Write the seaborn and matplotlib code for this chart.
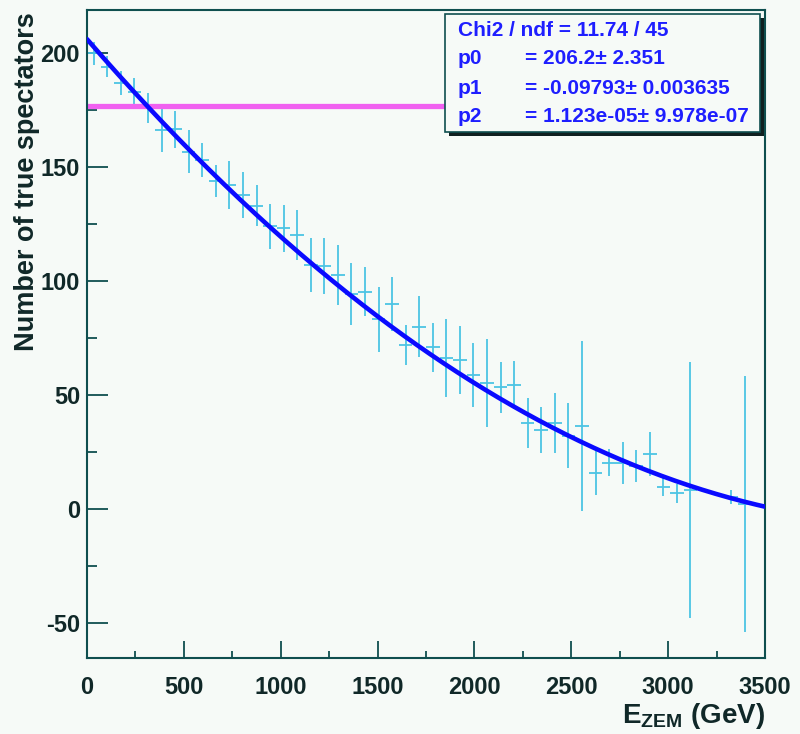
import numpy as np
import pandas as pd
import matplotlib
matplotlib.use("Agg")
import matplotlib.pyplot as plt
from matplotlib.ticker import MultipleLocator
from matplotlib.patches import Rectangle
import seaborn as sns

# ---- data ----
bin_centers = [35, 105, 175, 245, 315, 385, 455, 525, 595, 665,
               735, 805, 875, 945, 1015, 1085, 1155, 1225, 1295, 1365,
               1435, 1505, 1575, 1645, 1715, 1785, 1855, 1925, 1995, 2065,
               2135, 2205, 2275, 2345, 2415, 2485, 2555, 2625, 2695, 2765,
               2835, 2905, 2975, 3045, 3115, 3325, 3395]
spectators = [200.0, 194.1, 186.9, 183.2, 176.0, 166.3, 166.6, 156.8, 153.1, 144.1,
              142.2, 137.9, 133.0, 124.0, 123.2, 120.2, 107.1, 106.6, 102.7, 94.2,
              95.4, 83.3, 90.0, 72.0, 80.0, 70.9, 66.2, 65.4, 58.8, 55.2,
              53.4, 54.5, 37.9, 34.7, 37.9, 32.1, 36.4, 15.9, 20.3, 20.1,
              19.0, 24.1, 9.8, 6.8, 8.3, 5.4, 2.2]
spectator_err = [5.0, 4.5, 5.3, 5.9, 6.6, 9.5, 8.0, 9.5, 7.5, 7.0,
                 10.5, 10.0, 9.0, 10.0, 10.2, 11.0, 12.0, 12.4, 13.2, 13.6,
                 10.6, 14.3, 11.7, 8.8, 13.5, 10.6, 17.2, 15.0, 14.0, 19.4,
                 11.3, 10.6, 11.0, 10.2, 13.2, 14.3, 37.4, 9.9, 6.0, 9.3,
                 7.0, 9.5, 4.0, 4.0, 56.3, 3.0, 56.0]
half_bin = 35

fit_params = [206.2, -0.09793, 1.123e-05]
fit_range = [0, 3500]
reference_level = 177

stats_lines = ["Chi2 / ndf = 11.74 / 45", "p0", "p1", "p2"]
stats_values = ["", "= 206.2\u00b1 2.351", "= -0.09793\u00b1 0.003635",
                "= 1.123e-05\u00b1 9.978e-07"]

# ---- style ----
sns.set_theme(style="ticks")
plt.rcParams["font.family"] = ["Liberation Sans", "DejaVu Sans"]
plt.rcParams["axes.unicode_minus"] = False
plt.rcParams["mathtext.fontset"] = "custom"
plt.rcParams["mathtext.rm"] = "Liberation Sans:bold"
plt.rcParams["mathtext.default"] = "rm"
frame_col = "#0f4f4f"
txt_col = "#102828"
bg = "#f6faf7"

fig = plt.figure(figsize=(8.0, 7.34), dpi=100, facecolor=bg)
ax = fig.add_axes([87 / 800, 1 - 658 / 734, (765 - 87) / 800, (658 - 10) / 734])
ax.set_facecolor(bg)

# data points with error bars
ax.errorbar(bin_centers, spectators, yerr=spectator_err, xerr=half_bin,
            fmt="none", ecolor="#4cc4e4", elinewidth=1.3, capsize=0, zorder=2)

# fit curve
xs = np.linspace(fit_range[0], fit_range[1], 400)
fit_df = pd.DataFrame({"x": xs,
                       "y": fit_params[0] + fit_params[1] * xs + fit_params[2] * xs ** 2})
sns.lineplot(data=fit_df, x="x", y="y", ax=ax, color="#0a0aff", linewidth=3.3,
             zorder=3, legend=False)

# magenta reference line
ax.axhline(reference_level, color="#f060f0", linewidth=3.8, zorder=2.5)

ax.set_xlim(0, 3500)
ax.set_ylim(-65.4, 219)
ax.xaxis.set_major_locator(MultipleLocator(500))
ax.xaxis.set_minor_locator(MultipleLocator(250))
ax.yaxis.set_major_locator(MultipleLocator(50))
ax.yaxis.set_minor_locator(MultipleLocator(25))
ax.tick_params(axis="x", which="major", direction="in", length=12, width=1.3,
               color=frame_col, pad=13, labelsize=17, labelcolor=txt_col)
ax.tick_params(axis="x", which="minor", direction="in", length=5, width=1.3,
               color=frame_col)
ax.tick_params(axis="y", which="major", direction="in", length=15, width=1.3,
               color=frame_col, pad=5, labelsize=17, labelcolor=txt_col)
ax.tick_params(axis="y", which="minor", direction="in", length=7, width=1.3,
               color=frame_col)
for lab in ax.get_xticklabels() + ax.get_yticklabels():
    lab.set_fontweight("bold")
for sp in ax.spines.values():
    sp.set_visible(True)
    sp.set_color(frame_col)
    sp.set_linewidth(1.5)

ax.set_xlabel("")
ax.set_ylabel("")
fig.text(27 / 800, 1 - 12 / 734, "Number of true spectators", rotation=90,
         ha="center", va="top", fontsize=19.5, fontweight="bold", color=txt_col)
fig.text(765 / 800, 1 - 716 / 734, r"E$_{\mathregular{ZEM}}$ (GeV)",
         ha="right", va="center", fontsize=20, fontweight="bold", color=txt_col)

# stats box
bx0, by0, bx1, by1 = 445, 14, 760, 132
W, H = 800, 734
shadow = Rectangle(((bx0 + 4) / W, 1 - (by1 + 4) / H), (bx1 - bx0) / W, (by1 - by0) / H,
                   transform=fig.transFigure, facecolor="#102020", edgecolor="none",
                   zorder=5)
box = Rectangle((bx0 / W, 1 - by1 / H), (bx1 - bx0) / W, (by1 - by0) / H,
                transform=fig.transFigure, facecolor=bg, edgecolor=frame_col,
                linewidth=1.2, zorder=6)
fig.patches.extend([shadow, box])
row_y = [31, 59, 88, 116]
for name, val, yy in zip(stats_lines, stats_values, row_y):
    fig.text(458 / W, 1 - yy / H, name, ha="left", va="center", fontsize=15,
             fontweight="bold", color="#1e1eff", zorder=7)
    if val:
        fig.text(525 / W, 1 - yy / H, val, ha="left", va="center", fontsize=15,
                 fontweight="bold", color="#1e1eff", zorder=7)

fig.savefig("out.png", dpi=100, facecolor=bg)
